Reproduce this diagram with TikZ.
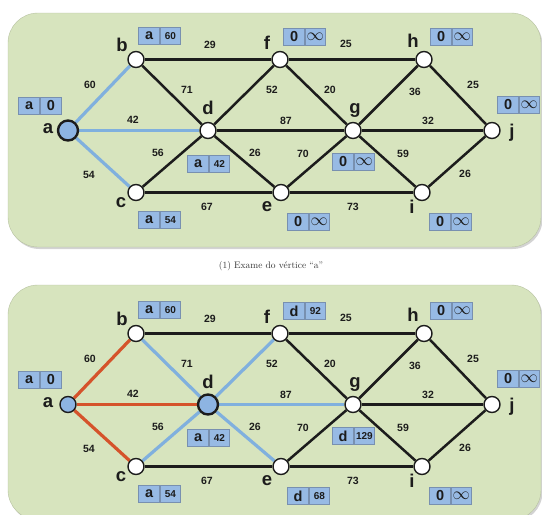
\documentclass[tikz,border=0pt]{standalone}
\usepackage{fontspec}
\setsansfont{Liberation Sans}
\usetikzlibrary{shadows}
\definecolor{panelgreen}{HTML}{D7E4BE}
\definecolor{vblue}{HTML}{8DB4E2}
\definecolor{eblue}{HTML}{80B0DE}
\definecolor{ered}{HTML}{D5532B}
\definecolor{boxblue}{HTML}{97BAE4}
\definecolor{boxline}{HTML}{7890B0}
\definecolor{ink}{HTML}{1C1C1C}

\pgfdeclarelayer{panels}
\pgfdeclarelayer{links}
\pgfsetlayers{panels,links,main}

\tikzset{
  panel/.style={fill=panelgreen, draw=panelgreen!85!black, line width=0.4pt,
    rounded corners=30pt, drop shadow={shadow xshift=1.5pt, shadow yshift=-2pt, opacity=0.35}},
  vtx/.style={circle, draw=ink, fill=white, line width=1.4pt, minimum size=16pt, inner sep=0pt},
  vtxcur/.style={vtx, fill=vblue, line width=2.4pt, minimum size=20pt},
  vtxdone/.style={vtx, fill=vblue, minimum size=16pt},
  vname/.style={font=\sffamily\bfseries\fontsize{18.5}{18.5}\selectfont, text=ink, inner sep=0pt},
  wt/.style={font=\sffamily\bfseries\fontsize{10.5}{10.5}\selectfont, text=ink, inner sep=0pt},
  plain/.style={line width=2.5pt, draw=ink},
  reached/.style={line width=3.2pt, draw=eblue},
  fixed/.style={line width=3.2pt, draw=ered},
  cellL/.style={draw=boxline, fill=boxblue, line width=0.7pt, minimum width=21pt, minimum height=17pt,
    inner sep=0pt, font=\sffamily\bfseries\fontsize{14.5}{14.5}\selectfont, text=ink},
  cellR/.style={cellL, minimum width=20pt, font=\sffamily\bfseries\fontsize{10}{10}\selectfont},
  cellBig/.style={cellL, minimum width=21pt},
  cellInf/.style={cellL, minimum width=20pt, font=\fontsize{16}{16}\selectfont},
  caption/.style={font=\fontsize{9.5}{9.5}\selectfont, text=black!80},
}

% distance box: predecessor | distance
\newcommand{\distbox}[5]{%
  \node[cellL, anchor=east] (#1-p) at #2 {#3};
  \node[#5, anchor=west] (#1-v) at (#1-p.east) {#4};
}

% vertex names and edge weights, identical in both panels
\newcommand{\graphtext}{%
  \node[vname] (la) at (48,129) {a};
  \node[vname] (lb) at (122,45) {b};
  \node[vname] (lc) at (121,203) {c};
  \node[vname] (ld) at (208,108) {d};
  \node[vname] (le) at (267,207) {e};
  \node[vname] (lf) at (267,43) {f};
  \node[vname] (lg) at (355,110) {g};
  \node[vname] (lh) at (413,41) {h};
  \node[vname] (li) at (412,207) {i};
  \node[vname] (lj) at (512,133) {j};
  \node[wt] (w-ab) at (90,85) {60};
  \node[wt] (w-ad) at (133,120) {42};
  \node[wt] (w-ac) at (89,175) {54};
  \node[wt] (w-bf) at (210,45) {29};
  \node[wt] (w-bd) at (187,90) {71};
  \node[wt] (w-df) at (272,90) {52};
  \node[wt] (w-cd) at (158,153) {56};
  \node[wt] (w-de) at (255,153) {26};
  \node[wt] (w-ce) at (207,207) {67};
  \node[wt] (w-dg) at (286,121) {87};
  \node[wt] (w-fg) at (330,90) {20};
  \node[wt] (w-eg) at (303,154) {70};
  \node[wt] (w-fh) at (346,44) {25};
  \node[wt] (w-gh) at (415,92) {36};
  \node[wt] (w-hj) at (473,85) {25};
  \node[wt] (w-gj) at (428,121) {32};
  \node[wt] (w-gi) at (403,154) {59};
  \node[wt] (w-ij) at (465,174) {26};
  \node[wt] (w-ei) at (353,207) {73};
}

% the vertices b..j (a and d are placed per panel)
\newcommand{\othervertices}{%
  \node[vtx] (b) at (136,59.5) {};
  \node[vtx] (c) at (136,192.5) {};
  \node[vtx] (e) at (281,192.5) {};
  \node[vtx] (f) at (280,59.5) {};
  \node[vtx] (g) at (353,130.5) {};
  \node[vtx] (h) at (424,59.5) {};
  \node[vtx] (i) at (422,192.5) {};
  \node[vtx] (j) at (492,130.5) {};
}

% edges that stay black in both panels
\newcommand{\blackedges}{%
  \draw[plain] (b) -- (f);
  \draw[plain] (c) -- (e);
  \draw[plain] (f) -- (h);
  \draw[plain] (f) -- (g);
  \draw[plain] (e) -- (g);
  \draw[plain] (e) -- (i);
  \draw[plain] (g) -- (h);
  \draw[plain] (g) -- (j);
  \draw[plain] (g) -- (i);
  \draw[plain] (h) -- (j);
  \draw[plain] (i) -- (j);
}

\begin{document}
\begin{tikzpicture}[x=1pt, y=-1pt]
  \useasboundingbox (0,0) rectangle (542,515);

  \begin{pgfonlayer}{panels}
    \fill[panel] (8,13) rectangle (541,247);
    \fill[panel] (8,285) rectangle (541,520);
  \end{pgfonlayer}

  % ---------- (1) examining vertex a ----------
  \begin{scope}[name prefix=A-]
    \node[vtxcur] (a) at (68,130.5) {};
    \node[vtx] (d) at (208,130.5) {};
    \othervertices
    \begin{pgfonlayer}{links}
      \blackedges
      \draw[plain] (b) -- (d);
      \draw[plain] (d) -- (f);
      \draw[plain] (c) -- (d);
      \draw[plain] (d) -- (e);
      \draw[plain] (d) -- (g);
      \draw[reached] (a) -- (b);
      \draw[reached] (a) -- (d);
      \draw[reached] (a) -- (c);
    \end{pgfonlayer}
    \graphtext
    \distbox{ba}{(40,105.5)}{a}{0}{cellBig}
    \distbox{bb}{(160,36)}{a}{60}{cellR}
    \distbox{bc}{(160,220)}{a}{54}{cellR}
    \distbox{bd}{(209,164)}{a}{42}{cellR}
    \distbox{be}{(309,222)}{0}{$\infty$}{cellInf}
    \distbox{bf}{(305,37)}{0}{$\infty$}{cellInf}
    \distbox{bg}{(354,162)}{0}{$\infty$}{cellInf}
    \distbox{bh}{(452,37)}{0}{$\infty$}{cellInf}
    \distbox{bi}{(451,222)}{0}{$\infty$}{cellInf}
    \distbox{bj}{(519,104.5)}{0}{$\infty$}{cellInf}
  \end{scope}

  \node[caption] (cap) at (271,266) {(1) Exame do vértice “a”};

  % ---------- (2) examining vertex d ----------
  \begin{scope}[name prefix=B-, shift={(0,274)}]
    \node[vtxdone] (a) at (68,130.5) {};
    \node[vtxcur] (d) at (208,130.5) {};
    \othervertices
    \begin{pgfonlayer}{links}
      \blackedges
      \draw[fixed] (a) -- (b);
      \draw[fixed] (a) -- (d);
      \draw[fixed] (a) -- (c);
      \draw[reached] (d) -- (b);
      \draw[reached] (d) -- (f);
      \draw[reached] (d) -- (c);
      \draw[reached] (d) -- (e);
      \draw[reached] (d) -- (g);
    \end{pgfonlayer}
    \graphtext
    \distbox{ba}{(40,105.5)}{a}{0}{cellBig}
    \distbox{bb}{(160,36)}{a}{60}{cellR}
    \distbox{bc}{(160,220)}{a}{54}{cellR}
    \distbox{bd}{(209,164)}{a}{42}{cellR}
    \distbox{be}{(309,222)}{d}{68}{cellR}
    \distbox{bf}{(305,37)}{d}{92}{cellR}
    \distbox{bg}{(354,162)}{d}{129}{cellR}
    \distbox{bh}{(452,37)}{0}{$\infty$}{cellInf}
    \distbox{bi}{(451,222)}{0}{$\infty$}{cellInf}
    \distbox{bj}{(519,104.5)}{0}{$\infty$}{cellInf}
  \end{scope}
\end{tikzpicture}
\end{document}
